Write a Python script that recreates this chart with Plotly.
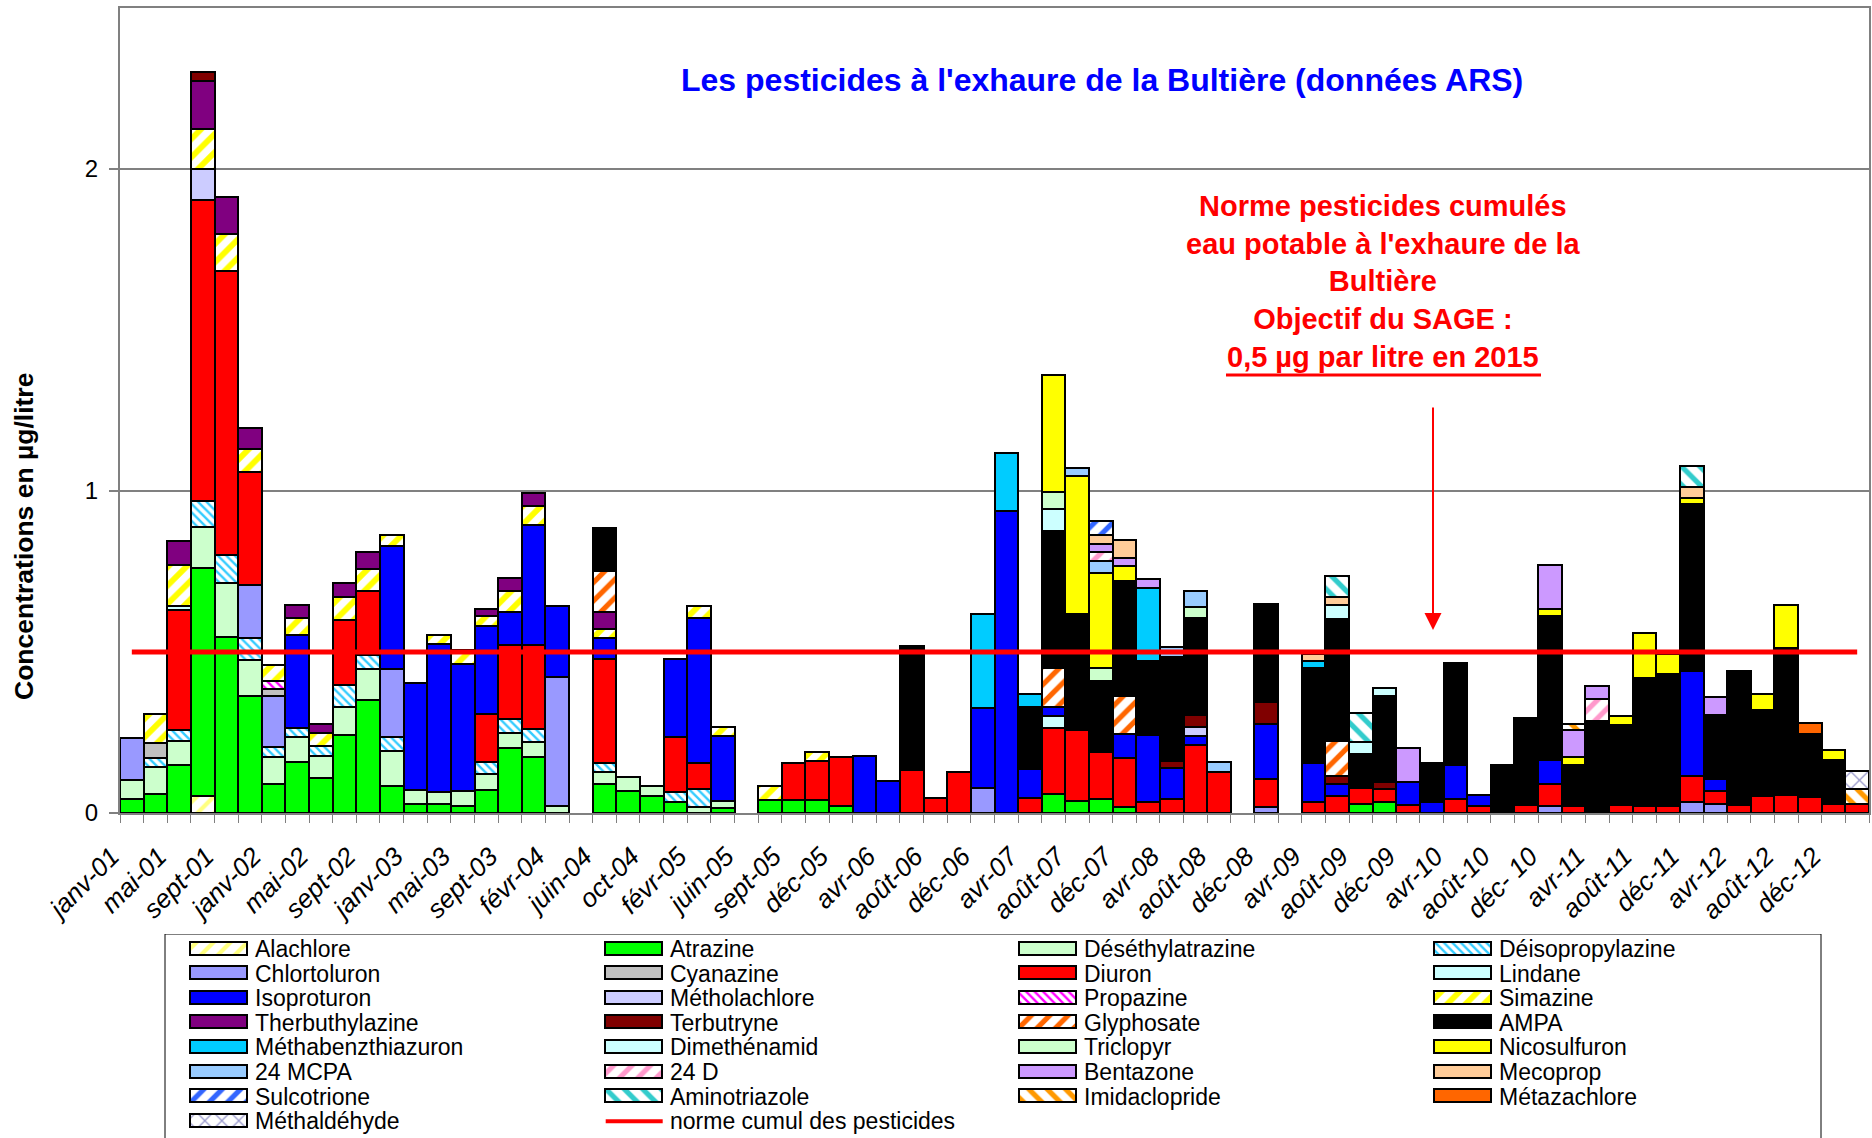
import plotly.graph_objects as go

# ---------------- categories (sampling dates) ----------------
CATEGORIES = [
    "janv-01", "mars-01", "mai-01", "juil-01", "sept-01", "nov-01",
    "janv-02", "mars-02", "mai-02", "juil-02", "sept-02", "nov-02",
    "janv-03", "mars-03", "mai-03", "juil-03", "sept-03", "nov-03",
    "févr-04", "avr-04", "juin-04", "août-04", "oct-04", "déc-04",
    "févr-05", "avr-05", "juin-05", "juil-05", "sept-05", "oct-05",
    "déc-05", "févr-06", "avr-06", "juin-06", "août-06", "oct-06",
    "déc-06", "févr-07", "avr-07", "juin-07", "août-07", "oct-07",
    "déc-07", "févr-08", "avr-08", "juin-08", "août-08", "oct-08",
    "déc-08", "févr-09", "avr-09", "juin-09", "août-09", "oct-09",
    "déc-09", "févr-10", "avr-10", "juin-10", "août-10", "oct-10",
    "déc-10", "févr-11", "avr-11", "juin-11", "août-11", "oct-11",
    "déc-11", "févr-12", "avr-12", "juin-12", "août-12", "oct-12",
    "déc-12", "févr-13",
]
# labels shown on the axis (every second sampling date)
TICK_LABELS = [c if i % 2 == 0 else "" for i, c in enumerate(CATEGORIES)]
TICK_LABELS[60] = "déc- 10"

NORME = 0.5  # µg/l

# ---------------- series (µg/l, by sampling date) ----------------
ALACHLORE = {"juil-01": 0.054}
ATRAZINE = {"janv-01": 0.042, "mars-01": 0.059, "mai-01": 0.150, "juil-01": 0.706, "sept-01": 0.548,
            "nov-01": 0.363, "janv-02": 0.090, "mars-02": 0.159, "mai-02": 0.108, "juil-02": 0.242,
            "sept-02": 0.351, "nov-02": 0.085, "janv-03": 0.028, "mars-03": 0.028, "mai-03": 0.023,
            "juil-03": 0.072, "sept-03": 0.202, "nov-03": 0.173, "juin-04": 0.090, "août-04": 0.069,
            "oct-04": 0.054, "déc-04": 0.035, "avr-05": 0.014, "juil-05": 0.040, "sept-05": 0.040,
            "oct-05": 0.040, "déc-05": 0.021, "juin-07": 0.059, "août-07": 0.036, "oct-07": 0.043,
            "déc-07": 0.018, "août-09": 0.028, "oct-09": 0.033}
DESETHYLATRAZINE = {"janv-01": 0.061, "mars-01": 0.083, "mai-01": 0.074, "juil-01": 0.128, "sept-01": 0.166,
                    "nov-01": 0.111, "janv-02": 0.085, "mars-02": 0.077, "mai-02": 0.070, "juil-02": 0.087,
                    "sept-02": 0.097, "nov-02": 0.108, "janv-03": 0.044, "mars-03": 0.036, "mai-03": 0.046,
                    "juil-03": 0.049, "sept-03": 0.048, "nov-03": 0.046, "févr-04": 0.021, "juin-04": 0.036,
                    "août-04": 0.042, "oct-04": 0.029, "févr-05": 0.018, "avr-05": 0.022}
DEISOPROPYLAZINE = {"mars-01": 0.028, "mai-01": 0.034, "juil-01": 0.080, "sept-01": 0.086, "nov-01": 0.071,
                    "janv-02": 0.029, "mars-02": 0.027, "mai-02": 0.030, "juil-02": 0.068, "sept-02": 0.043,
                    "nov-02": 0.042, "juil-03": 0.036, "sept-03": 0.042, "nov-03": 0.042, "juin-04": 0.029,
                    "déc-04": 0.029, "févr-05": 0.056}
CHLORTOLURON = {"janv-01": 0.129, "nov-01": 0.162, "janv-02": 0.159, "nov-02": 0.213, "févr-04": 0.400,
                "déc-06": 0.077, "déc-08": 0.018, "déc-10": 0.021, "déc-11": 0.035, "févr-12": 0.028}
CYANAZINE = {"mars-01": 0.046, "janv-02": 0.023}
DIURON = {"mai-01": 0.371, "juil-01": 0.935, "sept-01": 0.883, "nov-01": 0.351, "juil-02": 0.201,
          "sept-02": 0.199, "juil-03": 0.152, "sept-03": 0.230, "nov-03": 0.261, "juin-04": 0.323,
          "déc-04": 0.171, "févr-05": 0.081, "sept-05": 0.114, "oct-05": 0.120, "déc-05": 0.154,
          "juin-06": 0.134, "août-06": 0.048, "oct-06": 0.128, "avr-07": 0.048, "juin-07": 0.205,
          "août-07": 0.223, "oct-07": 0.145, "déc-07": 0.152, "févr-08": 0.035, "avr-08": 0.043,
          "juin-08": 0.211, "août-08": 0.126, "déc-08": 0.087, "avr-09": 0.033, "juin-09": 0.052,
          "août-09": 0.049, "oct-09": 0.041, "déc-09": 0.026, "avr-10": 0.043, "juin-10": 0.023,
          "oct-10": 0.026, "déc-10": 0.069, "févr-11": 0.023, "juin-11": 0.026, "août-11": 0.021,
          "oct-11": 0.021, "déc-11": 0.079, "févr-12": 0.039, "avr-12": 0.026, "juin-12": 0.052,
          "août-12": 0.057, "oct-12": 0.049, "déc-12": 0.028, "févr-13": 0.028}
LINDANE = {"mai-01": 0.015, "juin-07": 0.038}
ISOPROTURON = {"mars-02": 0.290, "nov-02": 0.381, "janv-03": 0.331, "mars-03": 0.460, "mai-03": 0.393,
               "juil-03": 0.272, "sept-03": 0.101, "nov-03": 0.371, "févr-04": 0.222, "juin-04": 0.067,
               "déc-04": 0.243, "févr-05": 0.452, "avr-05": 0.204, "févr-06": 0.178, "avr-06": 0.098,
               "déc-06": 0.250, "févr-07": 0.938, "avr-07": 0.089, "juin-07": 0.028, "déc-07": 0.075,
               "févr-08": 0.208, "avr-08": 0.096, "juin-08": 0.029, "déc-08": 0.171, "avr-09": 0.122,
               "juin-09": 0.038, "déc-09": 0.071, "févr-10": 0.035, "avr-10": 0.106, "juin-10": 0.033,
               "déc-10": 0.074, "déc-11": 0.326, "févr-12": 0.038}
METHOLACHLORE = {"juil-01": 0.097, "juin-08": 0.028}
PROPAZINE = {"janv-02": 0.023}
SIMAZINE = {"mars-01": 0.090, "mai-01": 0.125, "juil-01": 0.124, "sept-01": 0.116, "nov-01": 0.073,
            "janv-02": 0.051, "mars-02": 0.052, "mai-02": 0.039, "juil-02": 0.074, "sept-02": 0.067,
            "nov-02": 0.033, "mars-03": 0.028, "mai-03": 0.045, "juil-03": 0.031, "sept-03": 0.065,
            "nov-03": 0.060, "juin-04": 0.026, "févr-05": 0.036, "avr-05": 0.028, "juil-05": 0.045,
            "oct-05": 0.031}
THERBUTHYLAZINE = {"mai-01": 0.077, "juil-01": 0.149, "sept-01": 0.113, "nov-01": 0.066, "mars-02": 0.041,
                   "mai-02": 0.028, "juil-02": 0.042, "sept-02": 0.054, "juil-03": 0.023, "sept-03": 0.043,
                   "nov-03": 0.042, "juin-04": 0.054}
TERBUTRYNE = {"juil-01": 0.028, "avr-08": 0.023, "juin-08": 0.036, "déc-08": 0.069, "juin-09": 0.026,
              "oct-09": 0.023}
GLYPHOSATE = {"juin-04": 0.127, "juin-07": 0.120, "déc-07": 0.119, "juin-09": 0.108}
AMPA = {"juin-04": 0.134, "juin-06": 0.385, "avr-07": 0.191, "juin-07": 0.426, "août-07": 0.358,
        "oct-07": 0.223, "déc-07": 0.357, "févr-08": 0.230, "avr-08": 0.324, "juin-08": 0.303,
        "déc-08": 0.303, "avr-09": 0.295, "juin-09": 0.378, "août-09": 0.106, "oct-09": 0.267,
        "févr-10": 0.120, "avr-10": 0.318, "août-10": 0.150, "oct-10": 0.268, "déc-10": 0.448,
        "févr-11": 0.127, "avr-11": 0.282, "juin-11": 0.247, "août-11": 0.398, "oct-11": 0.410,
        "déc-11": 0.521, "févr-12": 0.199, "avr-12": 0.416, "juin-12": 0.269, "août-12": 0.454,
        "oct-12": 0.196, "déc-12": 0.137}
METHABENZTHIAZURON = {"déc-06": 0.290, "févr-07": 0.181, "avr-07": 0.041, "févr-08": 0.227, "avr-09": 0.023}
DIMETHENAMID = {"juin-07": 0.067, "juin-09": 0.044, "août-09": 0.038, "oct-09": 0.023}
TRICLOPYR = {"juin-07": 0.054, "oct-07": 0.039, "juin-08": 0.033}
NICOSULFURON = {"juin-07": 0.362, "août-07": 0.430, "oct-07": 0.294, "déc-07": 0.046, "déc-10": 0.021,
                "févr-11": 0.025, "avr-11": 0.005, "juin-11": 0.029, "août-11": 0.141, "oct-11": 0.062,
                "déc-11": 0.018, "juin-12": 0.048, "août-12": 0.135, "déc-12": 0.031}
MCPA_24 = {"août-07": 0.025, "oct-07": 0.038, "avr-08": 0.030, "juin-08": 0.050, "août-08": 0.031}
D_24 = {"oct-07": 0.030, "avr-11": 0.067}
BENTAZONE = {"oct-07": 0.023, "déc-07": 0.026, "févr-08": 0.028, "déc-09": 0.104, "déc-10": 0.136,
             "févr-11": 0.082, "avr-11": 0.039, "févr-12": 0.057}
MECOPROP = {"oct-07": 0.027, "déc-07": 0.054, "avr-09": 0.022, "juin-09": 0.025, "déc-11": 0.033}
SULCOTRIONE = {"oct-07": 0.045}
AMINOTRIAZOLE = {"juin-09": 0.065, "août-09": 0.091, "déc-11": 0.066}
IMIDACLOPRIDE = {"févr-11": 0.019, "févr-13": 0.046}
METAZACHLORE = {"oct-12": 0.033}
METHALDEHYDE = {"févr-13": 0.057}

# name, values, colour, pattern (shape, fg colour, size, solidity) or None
SERIES = [
    ("Alachlore", ALACHLORE, "#FFFF99", ("/", "#FFFF80", 12, 0.35)),
    ("Atrazine", ATRAZINE, "#00FF00", None),
    ("Déséthylatrazine", DESETHYLATRAZINE, "#CCFFCC", None),
    ("Déisopropylazine", DEISOPROPYLAZINE, "#33CCFF", ("\\", "#33CCFF", 6, 0.4)),
    ("Chlortoluron", CHLORTOLURON, "#9999FF", None),
    ("Cyanazine", CYANAZINE, "#C0C0C0", None),
    ("Diuron", DIURON, "#FF0000", None),
    ("Lindane", LINDANE, "#CCFFFF", None),
    ("Isoproturon", ISOPROTURON, "#0000FF", None),
    ("Métholachlore", METHOLACHLORE, "#CCCCFF", None),
    ("Propazine", PROPAZINE, "#FF00FF", ("\\", "#FF00FF", 6, 0.4)),
    ("Simazine", SIMAZINE, "#FFFF00", ("/", "#FFFF00", 13, 0.45)),
    ("Therbuthylazine", THERBUTHYLAZINE, "#800080", None),
    ("Terbutryne", TERBUTRYNE, "#800000", None),
    ("Glyphosate", GLYPHOSATE, "#FF6600", ("/", "#FF6600", 13, 0.4)),
    ("AMPA", AMPA, "#000000", None),
    ("Méthabenzthiazuron", METHABENZTHIAZURON, "#00CCFF", None),
    ("Dimethénamid", DIMETHENAMID, "#CCFFFF", None),
    ("Triclopyr", TRICLOPYR, "#CCFFCC", None),
    ("Nicosulfuron", NICOSULFURON, "#FFFF00", None),
    ("24 MCPA", MCPA_24, "#99CCFF", None),
    ("24 D", D_24, "#FF99CC", ("/", "#FF99CC", 13, 0.4)),
    ("Bentazone", BENTAZONE, "#CC99FF", None),
    ("Mecoprop", MECOPROP, "#FFCC99", None),
    ("Sulcotrione", SULCOTRIONE, "#3366FF", ("/", "#3366FF", 13, 0.4)),
    ("Aminotriazole", AMINOTRIAZOLE, "#33CCCC", ("\\", "#33CCCC", 13, 0.4)),
    ("Imidaclopride", IMIDACLOPRIDE, "#FF9900", ("\\", "#FF9900", 13, 0.4)),
    ("Métazachlore", METAZACHLORE, "#FF6600", None),
    ("Méthaldéhyde", METHALDEHYDE, "#9999CC", ("x", "#9999CC", 12, 0.2)),
]

FONT = "Liberation Sans, Arial, sans-serif"
W, H = 1872, 1138
ML, MR, MT, MB = 120, 3, 8, 0
PW, PH = W - ML - MR, H - MT - MB
BASE_PX = 813          # pixel row of the value axis baseline
LEG_TOP = 934          # pixel row of the legend box top


def px_x(px):
    return (px - ML) / PW


def px_y(py):
    return (H - MB - py) / PH


def marker_for(color, pat, lw=2):
    m = dict(color=color, line=dict(color="black", width=lw))
    if pat is not None:
        shape, fg, size, sol = pat
        m["pattern"] = dict(shape=shape, fgcolor=fg, bgcolor="white", size=size,
                            solidity=sol, fillmode="replace")
    return m


fig = go.Figure()

for name, vals, color, pat in SERIES:
    fig.add_trace(go.Bar(
        x=CATEGORIES, y=[vals.get(c) for c in CATEGORIES], name=name,
        marker=marker_for(color, pat), showlegend=False, xaxis="x", yaxis="y",
    ))

fig.add_trace(go.Scatter(
    x=CATEGORIES, y=[NORME] * len(CATEGORIES), mode="lines",
    line=dict(color="#FF0000", width=5), name="norme cumul des pesticides",
    showlegend=False, xaxis="x", yaxis="y",
))

# ---------------- hand-laid legend (4 columns, row-wise) ----------------
LEG_COL_X = 191
LEG_COL_STEP = 414.7
LEG_ROW_Y = 949
LEG_ROW_STEP = 24.6
SW_W, SW_H = 57, 13
annotations = []
shapes = []
entries = [(n, c, p) for n, _, c, p in SERIES] + [("norme cumul des pesticides", None, None)]
for i, (name, color, pat) in enumerate(entries):
    col, row = i % 4, i // 4
    x0 = LEG_COL_X + LEG_COL_STEP * col
    yc = LEG_ROW_Y + LEG_ROW_STEP * row
    if color is not None:
        fig.add_trace(go.Bar(
            y=[yc], x=[SW_W], base=[x0], orientation="h", width=SW_H,
            marker=marker_for(color, pat, lw=1.8), showlegend=False,
            xaxis="x2", yaxis="y2", hoverinfo="skip",
        ))
    else:
        shapes.append(dict(type="line", xref="x2", yref="y2", x0=x0, x1=x0 + SW_W,
                           y0=yc, y1=yc, line=dict(color="#FF0000", width=4)))
    annotations.append(dict(xref="x2", yref="y2", x=x0 + 62, y=yc, text=name,
                            showarrow=False, xanchor="left", yanchor="middle",
                            font=dict(family=FONT, size=23, color="black")))

shapes.append(dict(type="rect", xref="x2", yref="y2", x0=165, x1=1821, y0=LEG_TOP, y1=H + 6,
                   line=dict(color="black", width=1), fillcolor="rgba(0,0,0,0)", layer="below"))

# ---------------- texts ----------------
annotations.append(dict(
    xref="paper", yref="paper", x=px_x(1102), y=px_y(80),
    text="<b>Les pesticides à l'exhaure de la Bultière (données ARS)</b>",
    showarrow=False, font=dict(family=FONT, size=32, color="#0000FF"),
    xanchor="center", yanchor="middle"))
annotations.append(dict(
    xref="paper", yref="paper", x=px_x(1383), y=px_y(282),
    text=("<b>Norme pesticides cumulés<br>eau potable à l'exhaure de la<br>Bultière<br>"
          "Objectif du SAGE :<br>0,5 µg par litre en 2015</b>"),
    showarrow=False, align="center", font=dict(family=FONT, size=29, color="#FF0000"),
    xanchor="center", yanchor="middle"))
shapes.append(dict(type="line", xref="paper", yref="paper", x0=px_x(1226), x1=px_x(1541),
                   y0=px_y(375), y1=px_y(375), line=dict(color="#FF0000", width=3)))
annotations.append(dict(
    xref="paper", yref="paper", x=px_x(1433), y=px_y(630), ax=0, ay=-224,
    text="", showarrow=True, arrowhead=2, arrowsize=1.7, arrowwidth=2, arrowcolor="#FF0000"))
annotations.append(dict(
    xref="paper", yref="paper", x=px_x(24), y=px_y(537),
    text="<b>Concentrations en µg/litre</b>", textangle=-90, showarrow=False,
    font=dict(family=FONT, size=26.5, color="black"), xanchor="center", yanchor="middle"))

fig.update_layout(
    width=W, height=H - 16,   # the page adds its 16px body margin while loading
    margin=dict(l=ML, r=MR, t=MT, b=MB, pad=0, autoexpand=False),
    paper_bgcolor="white", plot_bgcolor="white",
    barmode="stack", bargap=0,
    showlegend=False,
    font=dict(family=FONT, color="black"),
    xaxis=dict(
        type="category", categoryorder="array", categoryarray=CATEGORIES,
        range=[-0.5, len(CATEGORIES) - 0.5],
        tickmode="array", tickvals=CATEGORIES, ticktext=TICK_LABELS,
        tickson="boundaries", ticks="outside", ticklen=8, tickcolor="#808080", tickwidth=1,
        tickangle=-45, tickfont=dict(family=FONT, size=26, style="italic", color="black"),
        ticklabelstandoff=16, ticklabelshift=-20, automargin=False,
        showline=True, linecolor="#808080", linewidth=2, mirror=True,
        showgrid=False, zeroline=False, domain=[0, 1], anchor="y",
    ),
    yaxis=dict(
        range=[0, 2.5], tickmode="array", tickvals=[0, 1, 2], ticktext=["0", "1", "2"],
        ticks="outside", ticklen=9, tickcolor="#808080", tickwidth=1.5,
        tickfont=dict(family=FONT, size=24, color="black"), ticklabelstandoff=6,
        automargin=False,
        showline=True, linecolor="#808080", linewidth=2, mirror=True,
        showgrid=True, gridcolor="#808080", gridwidth=1.5, zeroline=False,
        domain=[px_y(BASE_PX), 1], anchor="x",
    ),
    xaxis2=dict(range=[ML, W - MR], domain=[0, 1], anchor="y2", visible=False,
                fixedrange=True, automargin=False),
    yaxis2=dict(range=[H, LEG_TOP], domain=[0, px_y(LEG_TOP)], anchor="x2", visible=False,
                fixedrange=True, automargin=False),
    annotations=annotations,
    shapes=shapes,
)

PAGE_FIX = r"""
var gd=document.getElementById('{plot_id}');
var de=document.documentElement, b=document.body;
de.style.cssText='margin:0;padding:0;overflow:hidden;height:%dpx;';
b.style.cssText='margin:0;padding:0;overflow:hidden;height:%dpx;';
gd.style.height='%dpx';
Plotly.relayout(gd,{height:%d});
""" % (H, H, H, H)

fig.write_html("out.html", config={"displayModeBar": False}, post_script=PAGE_FIX)
